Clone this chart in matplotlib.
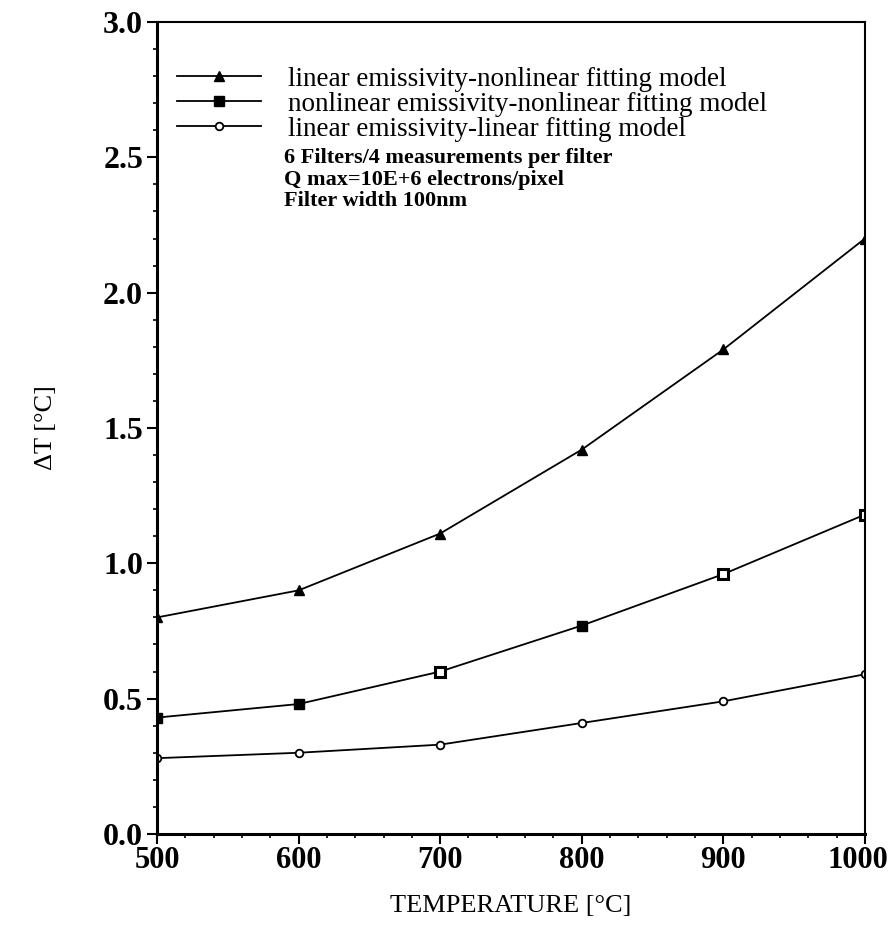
import matplotlib
matplotlib.use("Agg")
import matplotlib.pyplot as plt
from matplotlib.ticker import MultipleLocator
from matplotlib.transforms import ScaledTranslation

temperature = [500, 600, 700, 800, 900, 1000]
lin_emis_nonlin_fit = [0.80, 0.90, 1.11, 1.42, 1.79, 2.20]
nonlin_emis_nonlin_fit = [0.43, 0.48, 0.60, 0.77, 0.96, 1.18]
lin_emis_lin_fit = [0.28, 0.30, 0.33, 0.41, 0.49, 0.59]

labels = ["linear emissivity-nonlinear fitting model",
          "nonlinear emissivity-nonlinear fitting model",
          "linear emissivity-linear fitting model"]
note_lines = ["6 Filters/4 measurements per filter",
              "Q max=10E+6 electrons/pixel",
              "Filter width 100nm"]
xticks = [500, 600, 700, 800, 900, 1000]
yticks = [0.0, 0.5, 1.0, 1.5, 2.0, 2.5, 3.0]

plt.rcParams['font.family'] = ['Liberation Serif', 'DejaVu Serif']

fig = plt.figure(figsize=(8.95, 9.48), dpi=100)
ax = fig.add_axes([0.1754, 0.1203, 0.791, 0.8565])

lw = 1.3
ax.plot(temperature, lin_emis_nonlin_fit, color='black', lw=lw, marker='^',
        markersize=7, label=labels[0])
# squares: some points filled, some hollow, as in the original
ax.plot(temperature, nonlin_emis_nonlin_fit, color='black', lw=lw, marker='s',
        markersize=6.5, markevery=[0, 1, 3], label=labels[1])
ax.plot(temperature, nonlin_emis_nonlin_fit, linestyle='none', marker='s',
        markersize=6.5, markevery=[2, 4, 5], markerfacecolor='white',
        markeredgecolor='black', markeredgewidth=2.2)
ax.plot(temperature, lin_emis_lin_fit, color='black', lw=lw, marker='o',
        markersize=5.5, markerfacecolor='white', markeredgewidth=1.3,
        label=labels[2])

ax.set_xlim(500, 1000)
ax.set_ylim(0, 3.0)
ax.set_xticks(xticks)
ax.set_yticks(yticks)
ax.set_xticklabels([str(t) for t in xticks])
ax.set_yticklabels(["%.1f" % v for v in yticks])
ax.xaxis.set_minor_locator(MultipleLocator(20))
ax.yaxis.set_minor_locator(MultipleLocator(0.1))
ax.tick_params(which='major', direction='out', length=7, width=1.5,
               labelsize=23, pad=3)
ax.tick_params(axis='x', which='major', labelsize=22, pad=2)
ax.tick_params(which='minor', direction='out', length=3, width=1.2)
for lab in ax.get_xticklabels() + ax.get_yticklabels():
    lab.set_fontweight('bold')
# keep "1000" inside the figure
last = ax.get_xticklabels()[-1]
last.set_transform(last.get_transform() + ScaledTranslation(-5 / 72, 0, fig.dpi_scale_trans))

for side in ['left', 'bottom']:
    ax.spines[side].set_linewidth(2.2)
for side in ['top', 'right']:
    ax.spines[side].set_linewidth(1.5)

ax.set_xlabel("TEMPERATURE [°C]", fontsize=19, labelpad=14)
ax.set_ylabel("ΔT [°C]", fontsize=19, labelpad=33)

leg = ax.legend(loc='upper left', bbox_to_anchor=(0.028, 0.945), frameon=False,
                fontsize=19.5, handlelength=3.1, handletextpad=1.0,
                labelspacing=0.0, numpoints=1, borderpad=0, borderaxespad=0)

for i, line in enumerate(note_lines):
    ax.text(0.18, 0.833 - i * 0.027, line, transform=ax.transAxes,
            fontsize=16, fontweight='bold', va='center', ha='left')

fig.savefig("out.png", dpi=100)
